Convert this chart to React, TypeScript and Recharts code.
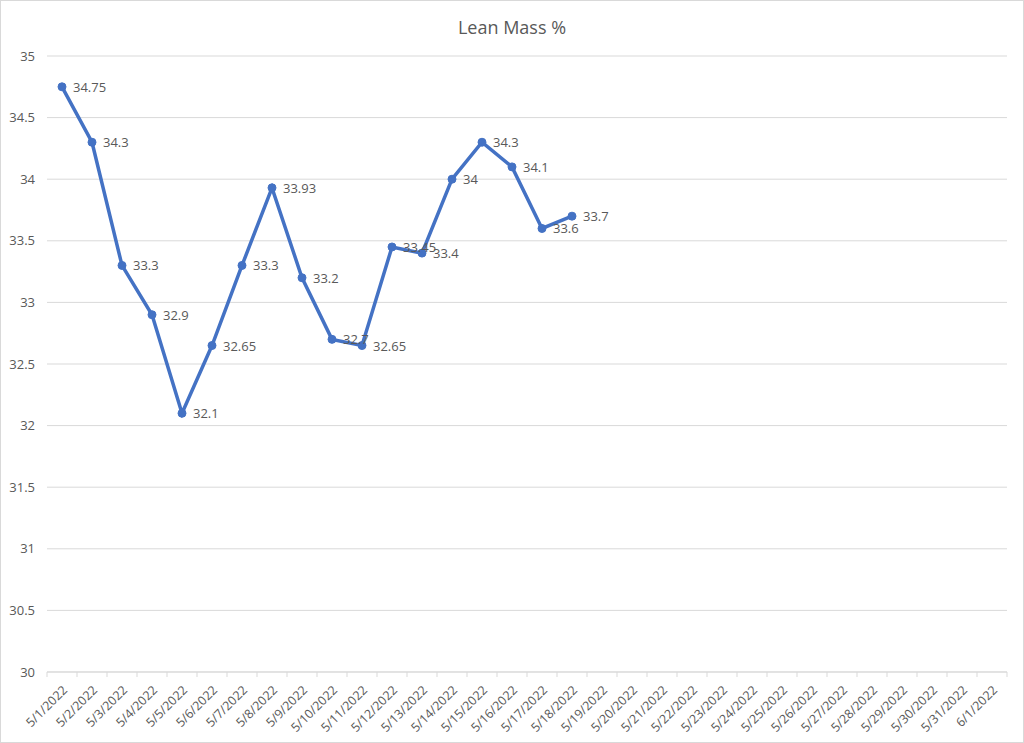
import { CartesianGrid, LabelList, Line, LineChart, XAxis, YAxis } from "recharts";

const dates = [
  "5/1/2022", "5/2/2022", "5/3/2022", "5/4/2022", "5/5/2022", "5/6/2022", "5/7/2022", "5/8/2022",
  "5/9/2022", "5/10/2022", "5/11/2022", "5/12/2022", "5/13/2022", "5/14/2022", "5/15/2022", "5/16/2022",
  "5/17/2022", "5/18/2022", "5/19/2022", "5/20/2022", "5/21/2022", "5/22/2022", "5/23/2022", "5/24/2022",
  "5/25/2022", "5/26/2022", "5/27/2022", "5/28/2022", "5/29/2022", "5/30/2022", "5/31/2022", "6/1/2022",
];

const leanMass = [
  34.75, 34.3, 33.3, 32.9, 32.1, 32.65, 33.3, 33.93, 33.2, 32.7, 32.65, 33.45, 33.4, 34, 34.3, 34.1, 33.6, 33.7,
];

const yTicks = [30, 30.5, 31, 31.5, 32, 32.5, 33, 33.5, 34, 34.5, 35];

const data = dates.map((d, i) => ({ date: d, value: i < leanMass.length ? leanMass[i] : null }));

const grey = "#595959";
const font = "'Open Sans', 'Noto Sans', sans-serif";

// excel puts the tick marks between categories, so draw them half a step to the left
function DateTick(props: any) {
  const { x, y, payload, index } = props;
  const lx = x + 6;
  const ly = y + 19;
  return (
    <g>
      <line x1={x - 15} y1={y} x2={x - 15} y2={y + 5} stroke="#d9d9d9" />
      {index === dates.length - 1 && <line x1={x + 15} y1={y} x2={x + 15} y2={y + 5} stroke="#d9d9d9" />}
      <text x={lx} y={ly} textAnchor="end" fill={grey} fontSize={12.5} fontFamily={font} transform={`rotate(-45, ${lx}, ${ly})`}>
        {payload.value}
      </text>
    </g>
  );
}

function PointLabel(props: any) {
  const { x, y, value } = props;
  if (value == null) return null;
  return (
    <text x={x + 11} y={y + 5} fill={grey} fontSize={13} fontFamily={font}>
      {value}
    </text>
  );
}

export default function App() {
  return (
    <div style={{ position: "absolute", left: 0, top: 0, width: 1022, height: 741, border: "1px solid #d9d9d9", background: "#fff" }}>
      <div style={{ position: "absolute", top: 14, width: "100%", textAlign: "center", fontFamily: font, fontSize: 18, color: grey }}>
        Lean Mass %
      </div>
      <LineChart width={1022} height={741} data={data} margin={{ top: 55, right: 16, bottom: 0, left: 0 }}>
        <CartesianGrid vertical={false} stroke="#d9d9d9" />
        <XAxis
          dataKey="date"
          interval={0}
          height={70}
          padding={{ left: 15, right: 15 }}
          tickSize={0}
          tickMargin={0}
          tick={<DateTick />}
          axisLine={{ stroke: "#d9d9d9" }}
        />
        <YAxis
          width={46}
          domain={[30, 35]}
          ticks={yTicks}
          tickSize={0}
          tickMargin={12}
          axisLine={false}
          tick={{ fill: grey, fontSize: 13, fontFamily: font }}
        />
        <Line
          type="linear"
          dataKey="value"
          stroke="#4472C4"
          strokeWidth={3.5}
          dot={{ r: 4, fill: "#4472C4", stroke: "#4472C4", strokeWidth: 1 }}
          isAnimationActive={false}
        >
          <LabelList dataKey="value" content={<PointLabel />} />
        </Line>
      </LineChart>
    </div>
  );
}
